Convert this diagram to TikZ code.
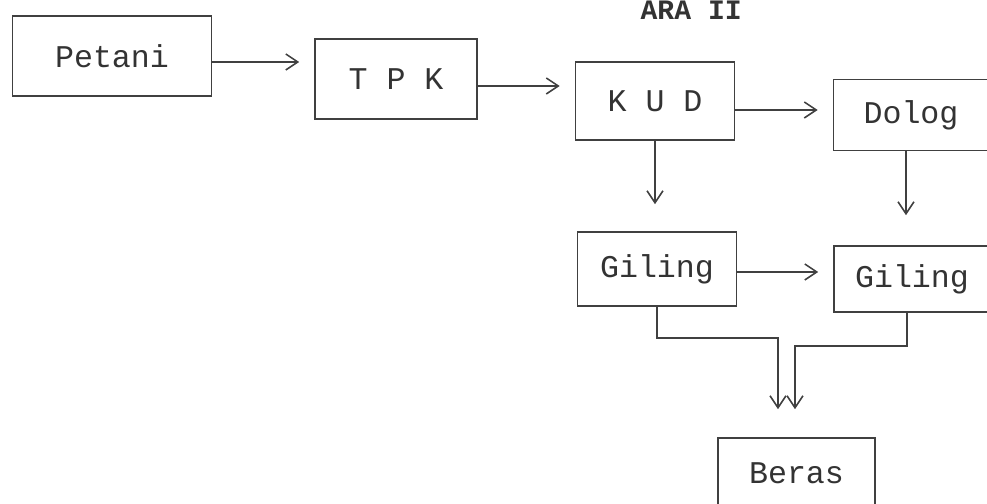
\documentclass[tikz,border=0pt]{standalone}
\usepackage{fontspec}
\setmonofont{Liberation Mono}
\usetikzlibrary{arrows.meta}

\begin{document}
\begin{tikzpicture}[flow/.style={-{Straight Barb[length=0.24cm,width=0.32cm]},line width=0.9pt,draw=black!75},
                    box/.style={draw=black!75,line width=0.9pt,inner sep=0pt,
                                font=\ttfamily\fontsize{18}{20}\selectfont,text=black!80}]
  \useasboundingbox (0,0) rectangle (19.74,10.08);
  %\draw[help lines] (0,0) grid (19.74,10.08);

  \node[anchor=base east,font=\ttfamily\bfseries\fontsize{16}{18}\selectfont,text=black!80] (title) at (14.96,9.68) {ARA II};

  \node[box,minimum width=3.98cm,minimum height=1.6cm]  (PT) at (2.24,8.96)  {Petani};
  \node[box,minimum width=3.24cm,minimum height=1.6cm]  (TPK) at (7.92,8.5)  {T P K};
  \node[box,minimum width=3.18cm,minimum height=1.56cm] (KUD) at (13.1,8.06) {K U D};
  \node[box,minimum width=3.1cm,minimum height=1.42cm]  (DL) at (18.22,7.78) {Dolog};
  \node[box,minimum width=3.18cm,minimum height=1.48cm] (G1) at (13.14,4.7)  {Giling};
  \node[box,minimum width=3.12cm,minimum height=1.32cm] (G2) at (18.24,4.5)  {Giling};
  \node[box,minimum width=3.14cm,minimum height=1.4cm]  (BR) at (15.93,0.62) {Beras};

  \draw[flow,shorten >=0.3cm] ([yshift=-0.12cm]PT.east) -- ([yshift=-0.12cm]PT.east -| TPK.west);
  \draw[flow,shorten >=0.3cm] ([yshift=-0.14cm]TPK.east) -- ([yshift=-0.14cm]TPK.east -| KUD.west);
  \draw[flow,shorten >=0.3cm] ([yshift=-0.18cm]KUD.east) -- ([yshift=-0.18cm]KUD.east -| DL.west);
  \draw[flow,shorten >=0.3cm] ([yshift=-0.06cm]G1.east) -- ([yshift=-0.06cm]G1.east -| G2.west);

  \draw[flow,shorten >=0.54cm] (KUD.south) -- (KUD.south |- G1.north);
  \draw[flow,shorten >=0.6cm] ([xshift=-0.1cm]DL.south) -- ([xshift=-0.1cm]DL.south |- G2.north);

  \draw[flow,shorten >=0.56cm] (G1.south) -- ++(0,-0.62) -| ([xshift=-0.37cm]BR.north);
  \draw[flow,shorten >=0.56cm] ([xshift=-0.1cm]G2.south) -- ++(0,-0.66) -| ([xshift=-0.03cm]BR.north);
\end{tikzpicture}
\end{document}
